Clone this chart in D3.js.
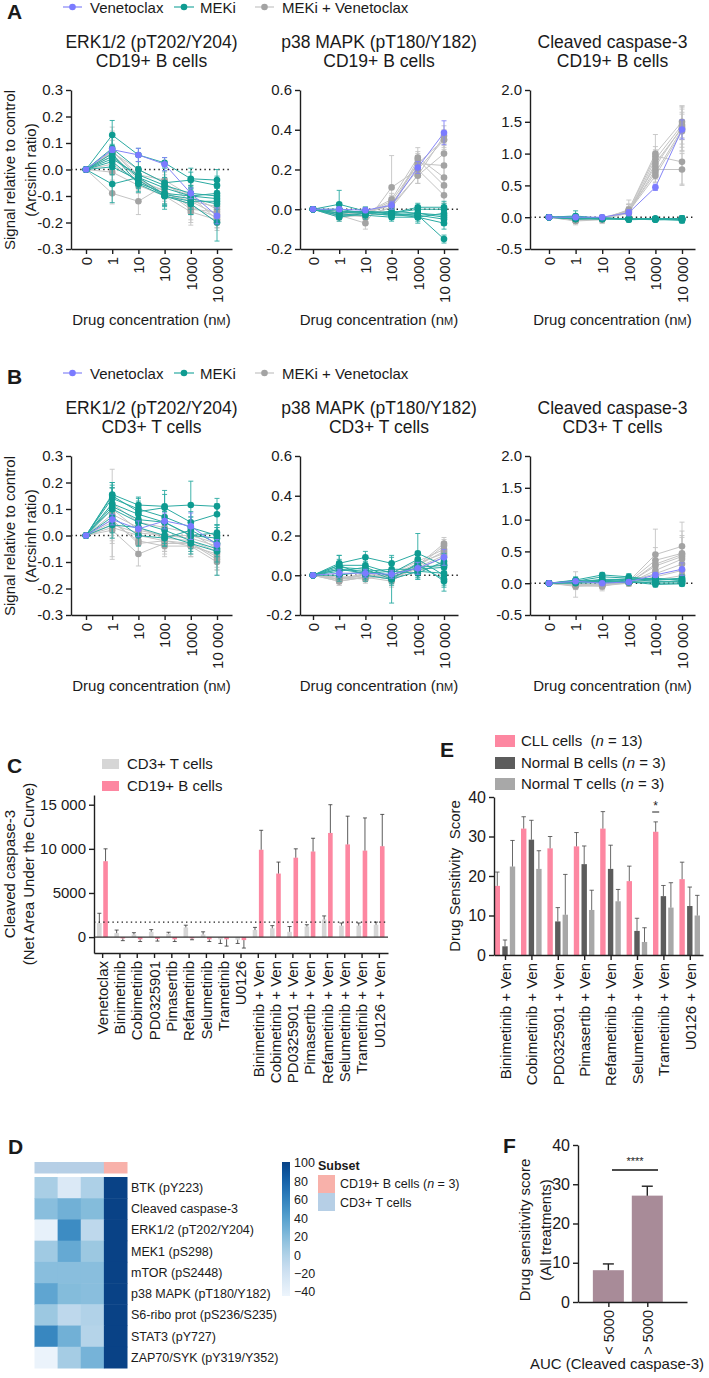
<!DOCTYPE html>
<html><head><meta charset="utf-8">
<script src="https://cdn.jsdelivr.net/npm/d3@7"></script>
<style>
body{margin:0;background:#fff}
svg{display:block}
text{font-family:"Liberation Sans",Arial,Helvetica,sans-serif;fill:#1a1a1a}
</style>
</head><body>
<svg id="c" width="709" height="1378"></svg>
<script>
// ---------- DATA ----------
const concLabels = ["0","1","10","100","1000","10 000"];
const erkTicks = [-0.3,-0.2,-0.1,0,0.1,0.2,0.3];
const erkTickLabels = ["-0.3","-0.2","-0.1","0.0","0.1","0.2","0.3"];
const p38Ticks = [-0.2,0,0.2,0.4,0.6];
const p38TickLabels = ["-0.2","0.0","0.2","0.4","0.6"];
const casTicks = [-0.5,0,0.5,1,1.5,2];
const casTickLabels = ["-0.5","0.0","0.5","1.0","1.5","2.0"];

// A: CD19+ B cells
const erkB_ven = [0,0.075,0.055,0.02,-0.09,-0.175];
const erkB_venErr = [0,0.01,0.025,0.025,0.02,0.03];
const erkB_meki = [
 [0,0.13,0.055,0.025,-0.035,-0.04],
 [0,0.08,0.0,-0.05,-0.04,-0.06],
 [0,0.05,-0.03,-0.07,-0.10,-0.09],
 [0,0.03,-0.05,-0.09,-0.10,-0.11],
 [0,0.01,-0.04,-0.10,-0.12,-0.12],
 [0,-0.055,-0.03,-0.095,-0.11,-0.13],
 [0,0.04,-0.02,-0.06,-0.09,-0.10],
 [0,0.06,-0.055,-0.10,-0.13,-0.20]];
const erkB_mekiErr = [
 [0,0.055,0.025,0.02,0.04,0.04],
 [0,0.045,0.03,0.06,0.03,0.035],
 [0,0.04,0.04,0.065,0.035,0.03],
 [0,0.03,0.035,0.04,0.04,0.04],
 [0,0.03,0.03,0.05,0.05,0.05],
 [0,0.07,0.03,0.04,0.04,0.06],
 [0,0.04,0.03,0.03,0.03,0.04],
 [0,0.035,0.03,0.04,0.04,0.07]];
const erkB_combo = [
 [0,-0.09,-0.12,-0.06,-0.10,-0.19],
 [0,-0.01,-0.06,-0.10,-0.13,-0.20],
 [0,0.07,-0.02,-0.04,-0.10,-0.15],
 [0,0.065,0.0,-0.05,-0.12,-0.17],
 [0,0.06,-0.04,-0.08,-0.14,-0.18],
 [0,0.02,-0.045,-0.08,-0.15,-0.16],
 [0,0.07,-0.03,-0.10,-0.16,-0.19],
 [0,0.05,-0.05,-0.09,-0.12,-0.14]];
const erkB_comboErr = [
 [0,0.04,0.05,0.03,0.04,0.03],
 [0,0.03,0.03,0.03,0.04,0.03],
 [0,0.09,0.03,0.03,0.05,0.04],
 [0,0.08,0.03,0.03,0.04,0.03],
 [0,0.05,0.03,0.03,0.05,0.03],
 [0,0.03,0.03,0.03,0.06,0.03],
 [0,0.06,0.03,0.03,0.04,0.03],
 [0,0.04,0.03,0.03,0.04,0.03]];

const p38B_ven = [0,0.0,-0.005,0.02,0.21,0.385];
const p38B_venErr = [0,0.01,0.012,0.02,0.03,0.06];
const p38B_meki = [
 [0,0.025,-0.01,-0.02,-0.03,-0.15],
 [0,-0.01,-0.015,-0.02,0.0,0.0],
 [0,-0.03,-0.02,-0.03,-0.03,-0.05],
 [0,-0.02,-0.01,-0.025,-0.04,-0.07],
 [0,-0.03,-0.03,-0.04,-0.04,-0.02],
 [0,0.0,-0.02,-0.01,-0.02,-0.03],
 [0,-0.04,-0.02,-0.03,-0.02,-0.04],
 [0,-0.02,-0.01,-0.02,0.01,0.01]];
const p38B_mekiErr = [
 [0,0.07,0.02,0.02,0.02,0.02],
 [0,0.03,0.02,0.02,0.02,0.03],
 [0,0.02,0.02,0.02,0.02,0.03],
 [0,0.02,0.02,0.02,0.02,0.03],
 [0,0.02,0.02,0.02,0.03,0.02],
 [0,0.02,0.02,0.02,0.02,0.05],
 [0,0.02,0.02,0.02,0.02,0.03],
 [0,0.02,0.02,0.02,0.02,0.03]];
const p38B_combo = [
 [0,-0.03,-0.07,0.11,0.20,0.07],
 [0,-0.02,-0.02,0.05,0.26,0.16],
 [0,-0.02,-0.01,0.02,0.23,0.22],
 [0,-0.03,-0.02,0.02,0.17,0.28],
 [0,-0.01,-0.02,0.03,0.20,0.35],
 [0,-0.04,-0.03,0.01,0.17,0.37],
 [0,-0.03,-0.02,0.04,0.23,0.35],
 [0,-0.02,-0.04,0.01,0.25,0.12]];
const p38B_comboErr = [
 [0,0.02,0.03,0.16,0.04,0.04],
 [0,0.02,0.03,0.03,0.05,0.05],
 [0,0.02,0.02,0.03,0.04,0.05],
 [0,0.02,0.02,0.02,0.04,0.05],
 [0,0.02,0.02,0.03,0.03,0.04],
 [0,0.02,0.02,0.02,0.04,0.05],
 [0,0.02,0.02,0.03,0.05,0.05],
 [0,0.02,0.02,0.02,0.04,0.04]];

const casB_ven = [0,0.0,0.0,0.07,0.47,1.38];
const casB_venErr = [0,0.03,0.03,0.05,0.05,0.15];
const casB_meki = [
 [0,0.02,-0.02,-0.03,-0.02,-0.03],
 [0,-0.02,-0.03,-0.02,-0.03,-0.04],
 [0,-0.03,-0.02,-0.04,-0.03,-0.02],
 [0,0.0,-0.01,-0.03,-0.04,-0.03],
 [0,-0.01,-0.03,-0.02,-0.03,-0.05],
 [0,-0.02,-0.02,-0.03,-0.02,-0.03],
 [0,0.01,-0.02,-0.02,-0.04,-0.04],
 [0,-0.03,-0.01,-0.03,-0.03,-0.02]];
const casB_mekiErr = [
 [0,0.08,0.03,0.03,0.03,0.05],
 [0,0.04,0.03,0.03,0.03,0.04],
 [0,0.03,0.03,0.04,0.03,0.04],
 [0,0.03,0.03,0.03,0.03,0.05],
 [0,0.03,0.03,0.03,0.03,0.04],
 [0,0.03,0.03,0.03,0.03,0.04],
 [0,0.04,0.03,0.03,0.03,0.05],
 [0,0.03,0.03,0.03,0.03,0.04]];
const casB_combo = [
 [0,-0.05,-0.03,0.12,1.00,1.50],
 [0,-0.06,-0.04,0.10,0.96,0.87],
 [0,-0.04,-0.02,0.08,0.75,0.75],
 [0,-0.03,-0.03,0.07,0.91,1.45],
 [0,-0.05,-0.01,0.10,0.70,1.38],
 [0,-0.04,-0.02,0.09,0.65,1.35],
 [0,-0.03,-0.03,0.11,0.80,1.42],
 [0,-0.04,-0.02,0.06,0.85,1.40]];
const casB_comboErr = [
 [0,0.05,0.06,0.15,0.30,0.25],
 [0,0.06,0.06,0.10,0.15,0.35],
 [0,0.05,0.05,0.08,0.20,0.25],
 [0,0.04,0.05,0.08,0.15,0.30],
 [0,0.05,0.04,0.10,0.10,0.35],
 [0,0.05,0.05,0.08,0.10,0.30],
 [0,0.05,0.05,0.10,0.10,0.20],
 [0,0.05,0.05,0.08,0.12,0.30]];

// B: CD3+ T cells
const erkT_ven = [0,0.06,0.025,0.055,0.035,-0.035];
const erkT_venErr = [0,0.02,0.03,0.03,0.05,0.02];
const erkT_meki = [
 [0,0.155,0.115,0.11,0.115,0.11],
 [0,0.15,0.09,0.105,0.05,0.08],
 [0,0.12,0.08,0.05,0.0,0.01],
 [0,0.11,0.06,0.05,0.0,-0.01],
 [0,0.10,0.05,0.02,-0.02,-0.05],
 [0,0.07,0.0,-0.01,0.02,-0.03],
 [0,0.04,0.03,0.0,-0.03,-0.06],
 [0,0.14,0.10,0.07,0.03,0.0]];
const erkT_mekiErr = [
 [0,0.045,0.03,0.06,0.09,0.03],
 [0,0.05,0.04,0.05,0.04,0.04],
 [0,0.06,0.03,0.04,0.05,0.03],
 [0,0.07,0.04,0.04,0.03,0.04],
 [0,0.06,0.05,0.05,0.04,0.05],
 [0,0.06,0.04,0.03,0.05,0.05],
 [0,0.05,0.03,0.04,0.04,0.09],
 [0,0.05,0.04,0.04,0.04,0.04]];
const erkT_combo = [
 [0,0.02,-0.07,-0.03,-0.03,-0.09],
 [0,0.05,-0.02,-0.04,-0.04,-0.10],
 [0,0.03,0.0,-0.02,-0.03,-0.08],
 [0,0.08,0.03,-0.01,-0.02,-0.06],
 [0,0.10,0.02,0.0,-0.01,-0.04],
 [0,0.12,0.05,0.03,0.01,-0.05],
 [0,0.06,-0.03,-0.02,-0.04,-0.07],
 [0,0.04,0.01,0.0,0.0,-0.03]];
const erkT_comboErr = [
 [0,0.10,0.045,0.04,0.04,0.04],
 [0,0.08,0.04,0.04,0.04,0.05],
 [0,0.05,0.03,0.04,0.03,0.05],
 [0,0.17,0.04,0.04,0.03,0.04],
 [0,0.08,0.03,0.03,0.03,0.04],
 [0,0.06,0.03,0.03,0.03,0.05],
 [0,0.06,0.04,0.04,0.04,0.05],
 [0,0.05,0.03,0.03,0.03,0.04]];

const p38T_ven = [0,0.01,0.01,0.005,0.035,0.09];
const p38T_venErr = [0,0.02,0.02,0.02,0.03,0.04];
const p38T_meki = [
 [0,0.06,0.09,0.06,0.11,0.05],
 [0,0.05,0.05,0.01,0.08,0.0],
 [0,0.04,0.03,-0.02,0.06,-0.03],
 [0,0.03,0.02,0.0,0.05,-0.02],
 [0,0.02,0.04,-0.01,0.04,0.05],
 [0,0.0,0.02,0.03,0.03,0.04],
 [0,0.05,0.0,-0.02,0.02,0.01],
 [0,0.03,0.01,0.02,0.01,0.07]];
const p38T_mekiErr = [
 [0,0.04,0.03,0.03,0.10,0.04],
 [0,0.03,0.03,0.03,0.04,0.05],
 [0,0.03,0.03,0.12,0.04,0.05],
 [0,0.03,0.03,0.03,0.04,0.04],
 [0,0.04,0.03,0.03,0.04,0.04],
 [0,0.03,0.03,0.03,0.04,0.03],
 [0,0.05,0.03,0.03,0.04,0.04],
 [0,0.03,0.03,0.03,0.03,0.04]];
const p38T_combo = [
 [0,-0.02,-0.01,-0.03,0.05,0.16],
 [0,-0.01,0.0,-0.02,0.04,0.15],
 [0,-0.03,-0.01,0.0,0.06,0.11],
 [0,-0.02,0.01,-0.01,0.03,0.09],
 [0,-0.01,-0.02,0.01,0.07,0.13],
 [0,-0.02,0.0,-0.02,0.02,0.06],
 [0,-0.03,-0.01,0.0,0.04,0.10],
 [0,-0.02,0.0,0.0,0.05,0.12]];
const p38T_comboErr = [
 [0,0.02,0.02,0.03,0.04,0.03],
 [0,0.02,0.02,0.03,0.03,0.03],
 [0,0.02,0.02,0.02,0.03,0.03],
 [0,0.02,0.02,0.02,0.03,0.03],
 [0,0.02,0.02,0.02,0.03,0.03],
 [0,0.02,0.02,0.02,0.03,0.03],
 [0,0.02,0.02,0.02,0.03,0.03],
 [0,0.02,0.02,0.02,0.03,0.03]];

const casT_ven = [0,0.03,0.0,0.02,0.13,0.22];
const casT_venErr = [0,0.02,0.02,0.03,0.04,0.10];
const casT_meki = [
 [0,0.05,0.13,0.10,0.05,0.07],
 [0,0.03,0.10,0.08,0.07,0.05],
 [0,0.02,0.06,0.06,0.03,0.03],
 [0,0.01,0.03,0.03,0.0,0.0],
 [0,0.04,0.02,0.05,0.08,0.04],
 [0,0.02,0.05,0.02,-0.02,-0.01],
 [0,0.0,0.01,0.01,0.02,0.02],
 [0,0.03,0.04,0.07,0.05,0.08]];
const casT_mekiErr = [
 [0,0.05,0.04,0.05,0.05,0.05],
 [0,0.04,0.04,0.04,0.05,0.04],
 [0,0.04,0.03,0.04,0.04,0.04],
 [0,0.03,0.03,0.03,0.04,0.04],
 [0,0.04,0.03,0.04,0.05,0.04],
 [0,0.03,0.03,0.03,0.04,0.04],
 [0,0.03,0.03,0.03,0.03,0.03],
 [0,0.04,0.03,0.04,0.04,0.05]];
const casT_combo = [
 [0,-0.03,-0.05,0.03,0.45,0.58],
 [0,-0.04,-0.02,0.02,0.36,0.47],
 [0,-0.02,-0.03,0.01,0.27,0.42],
 [0,-0.05,-0.04,0.0,0.20,0.38],
 [0,-0.02,-0.01,0.03,0.15,0.30],
 [0,-0.03,-0.02,0.01,0.10,0.20],
 [0,-0.01,-0.03,0.02,0.05,0.12],
 [0,-0.02,-0.02,0.0,0.30,0.45]];
const casT_comboErr = [
 [0,0.05,0.05,0.05,0.40,0.38],
 [0,0.06,0.05,0.05,0.20,0.35],
 [0,0.05,0.06,0.05,0.15,0.30],
 [0,0.05,0.08,0.05,0.10,0.20],
 [0,0.05,0.04,0.05,0.10,0.15],
 [0,0.06,0.05,0.05,0.08,0.10],
 [0,0.05,0.05,0.05,0.06,0.08],
 [0,0.20,0.05,0.05,0.15,0.30]];

// C: AUC bars
const cCategories = ["Venetoclax","Binimetinib","Cobimetinib","PD0325901","Pimasertib","Refametinib","Selumetinib","Trametinib","U0126",
 "Binimetinib + Ven","Cobimetinib + Ven","PD0325901 + Ven","Pimasertib + Ven","Refametinib + Ven","Selumetinib + Ven","Trametinib + Ven","U0126 + Ven"];
const cT = [1600,450,300,600,400,1100,300,-260,-300,800,1000,600,1200,2000,1300,1300,1400];
const cTErr = [1100,350,200,250,150,250,300,460,420,300,300,600,200,400,300,300,300];
const cB = [8600,-150,-250,-200,-250,-150,-250,-250,-340,9900,7200,9000,9700,11800,10500,9800,10300];
const cBErr = [1400,250,250,250,250,150,250,770,900,2200,1300,1000,1500,3200,3200,3700,3600];
const cThreshold = 1700;
const cTicks = [0,5000,10000,15000];
const cTickLabels = ["0","5000","10 000","15 000"];

// E: DSS
const eCategories = ["Binimetinib + Ven","Cobimetinib + Ven","PD0325901 + Ven","Pimasertib + Ven","Refametinib + Ven","Selumetinib + Ven","Trametinib + Ven","U0126 + Ven"];
const eCLL = [17.5,32,27,27.5,32,18.7,31.2,19.2];
const eCLLErr = [3.5,3,3,3.5,4.3,3.8,2.5,4.3];
const eNormB = [2.2,29.2,8.5,23,21.8,6.1,14.9,12.4];
const eNormBErr = [1.6,4.9,3.5,4.6,6,3.2,2.7,4.8];
const eNormT = [22.4,21.8,10.2,11.4,13.6,3.3,12,10];
const eNormTErr = [6.6,4.6,10.2,5,3,3.6,6.3,5.1];
const eTicks = [0,10,20,30,40];

// D: heatmap
const dRows = ["BTK (pY223)","Cleaved caspase-3","ERK1/2 (pT202/Y204)","MEK1 (pS298)","mTOR (pS2448)","p38 MAPK (pT180/Y182)","S6-ribo prot (pS236/S235)","STAT3 (pY727)","ZAP70/SYK (pY319/Y352)"];
const dSubsets = ["T","T","T","B"];
const dValues = [
 [6,-25,4,100],
 [20,30,22,100],
 [-35,55,-5,100],
 [10,35,12,100],
 [20,20,20,100],
 [38,22,20,100],
 [12,-5,2,100],
 [58,30,0,100],
 [-38,8,28,100]];
const dLegendTicks = [100,80,60,40,20,0,-20,-40];
const dLegendLabels = ["100","80","60","40","20","0","\u221220","\u221240"];

// F
const fCategories = ["< 5000","> 5000"];
const fValues = [8.1,27.1];
const fErr = [1.6,2.4];
const fTicks = [0,10,20,30,40];

// ---------- DRAWING ----------
const svg = d3.select("#c");
svg.append("rect").attr("width",709).attr("height",1378).attr("fill","#fff");
const FS = 15;
const INK = "#1e1e1e";
const colVen = "#8585f7", colVenM = "#7b7bff";
const colMek = "#2aaaa2", colMekM = "#0e9b91";
const colCom = "#c4c4c4", colComM = "#a3a3a3";

function styleAxis(g, fs){
  g.attr("font-family",null).attr("font-size",null);
  g.selectAll("path.domain").attr("stroke",INK).attr("stroke-width",1.4);
  g.selectAll(".tick line").attr("stroke",INK).attr("stroke-width",1.4);
  g.selectAll(".tick text").attr("font-size",fs||FS).attr("fill",INK);
}
function rotateLabels(g){
  g.selectAll(".tick text").attr("transform","rotate(-90)").attr("text-anchor","end")
   .attr("x",-8).attr("y",0).attr("dy","0.35em");
}
function label(t,x,y){
  svg.append("text").attr("x",x).attr("y",y).attr("font-size",21).attr("font-weight","bold").attr("fill","#000").text(t);
}

function legendRow(oy){
  const items = [["Venetoclax",colVen,colVenM,63,82,90],["MEKi",colMek,colMekM,174,194,200],["MEKi + Venetoclax",colCom,colComM,255,274,282]];
  items.forEach(([t,c,cm,x1,x2,tx])=>{
    svg.append("line").attr("x1",x1).attr("x2",x2).attr("y1",oy+7).attr("y2",oy+7).attr("stroke",c).attr("stroke-width",1.2);
    svg.append("circle").attr("cx",(x1+x2)/2).attr("cy",oy+7).attr("r",3.3).attr("fill",cm);
    svg.append("text").attr("x",tx).attr("y",oy+12.5).attr("font-size",FS).text(t);
  });
}

function linePanel(oy, p){
  const step = (p.last-p.first)/5;
  const x = d3.scaleLinear().domain([(p.ax-p.first)/step, 5+(p.end-p.last)/step]).range([p.ax,p.end]);
  const y = d3.scaleLinear().domain(p.domain).range([oy+249, oy+90]);
  const g = svg.append("g");
  g.append("text").attr("x",(p.ax+p.end)/2).attr("y",oy+48).attr("text-anchor","middle").attr("font-size",17.5).text(p.t1);
  g.append("text").attr("x",(p.ax+p.end)/2).attr("y",oy+67).attr("text-anchor","middle").attr("font-size",17.5).text(p.t2);
  g.append("line").attr("x1",p.ax).attr("x2",p.end).attr("y1",y(0)).attr("y2",y(0))
    .attr("stroke",INK).attr("stroke-width",1.4).attr("stroke-dasharray","1.4,3.2");
  const line = d3.line().x((d,i)=>x(i)).y(d=>y(d));
  function group(vals, errs, lc, mc){
    const gg = g.append("g");
    vals.forEach((s,k)=>{
      s.forEach((v,i)=>{
        const e = errs[k][i];
        if(e>0){
          gg.append("line").attr("x1",x(i)).attr("x2",x(i)).attr("y1",y(v-e)).attr("y2",y(v+e)).attr("stroke",lc).attr("stroke-width",0.9);
          [v-e,v+e].forEach(w=>gg.append("line").attr("x1",x(i)-2.5).attr("x2",x(i)+2.5).attr("y1",y(w)).attr("y2",y(w)).attr("stroke",lc).attr("stroke-width",0.9));
        }
      });
    });
    vals.forEach(s=>{
      gg.append("path").attr("d",line(s)).attr("fill","none").attr("stroke",lc).attr("stroke-width",1);
    });
    vals.forEach(s=>{
      s.forEach((v,i)=>gg.append("circle").attr("cx",x(i)).attr("cy",y(v)).attr("r",3.3).attr("fill",mc));
    });
  }
  group(p.combo,p.comboErr,colCom,colComM);
  group(p.meki,p.mekiErr,colMek,colMekM);
  group([p.ven],[p.venErr],colVen,colVenM);
  const ya = g.append("g").attr("transform",`translate(${p.ax},0)`)
    .call(d3.axisLeft(y).tickValues(p.ticks).tickFormat((d,i)=>p.tickLabels[i]).tickSize(5).tickSizeOuter(0).tickPadding(3));
  styleAxis(ya);
  const xa = g.append("g").attr("transform",`translate(0,${oy+249})`)
    .call(d3.axisBottom(x).tickValues([0,1,2,3,4,5]).tickFormat((d,i)=>concLabels[i]).tickSize(5).tickSizeOuter(0));
  styleAxis(xa); rotateLabels(xa);
  const xt = g.append("text").attr("x",(p.ax+p.end)/2).attr("y",oy+325).attr("text-anchor","middle").attr("font-size",FS);
  xt.append("tspan").text("Drug concentration (n");
  xt.append("tspan").attr("font-size",11).text("M");
  xt.append("tspan").text(")");
}

function row(oy, title2, sets){
  legendRow(oy);
  const geo = [{ax:71,first:86,last:217,end:232},{ax:300,first:313,last:444,end:458},{ax:530,first:549,last:682,end:695}];
  const heads = ["ERK1/2 (pT202/Y204)","p38 MAPK (pT180/Y182)","Cleaved caspase-3"];
  const doms = [[-0.3,0.3],[-0.2,0.6],[-0.5,2]];
  const tks = [[erkTicks,erkTickLabels],[p38Ticks,p38TickLabels],[casTicks,casTickLabels]];
  sets.forEach((s,i)=>{
    linePanel(oy, Object.assign({}, geo[i], {t1:heads[i], t2:title2[i], domain:doms[i], ticks:tks[i][0], tickLabels:tks[i][1]}, s));
  });
  [["Signal relative to control",10],["(Arcsinh ratio)",31]].forEach(([t,xx])=>{
    svg.append("text").attr("transform",`translate(${xx},${oy+170}) rotate(-90)`).attr("text-anchor","middle")
      .attr("dy","0.35em").attr("font-size",FS).text(t);
  });
}

label("A",7,19);
row(0, ["CD19+  B cells","CD19+ B cells","CD19+ B cells"], [
  {ven:erkB_ven,venErr:erkB_venErr,meki:erkB_meki,mekiErr:erkB_mekiErr,combo:erkB_combo,comboErr:erkB_comboErr},
  {ven:p38B_ven,venErr:p38B_venErr,meki:p38B_meki,mekiErr:p38B_mekiErr,combo:p38B_combo,comboErr:p38B_comboErr},
  {ven:casB_ven,venErr:casB_venErr,meki:casB_meki,mekiErr:casB_mekiErr,combo:casB_combo,comboErr:casB_comboErr}]);
label("B",7,384);
row(366, ["CD3+ T cells","CD3+  T cells","CD3+  T cells"], [
  {ven:erkT_ven,venErr:erkT_venErr,meki:erkT_meki,mekiErr:erkT_mekiErr,combo:erkT_combo,comboErr:erkT_comboErr},
  {ven:p38T_ven,venErr:p38T_venErr,meki:p38T_meki,mekiErr:p38T_mekiErr,combo:p38T_combo,comboErr:p38T_comboErr},
  {ven:casT_ven,venErr:casT_venErr,meki:casT_meki,mekiErr:casT_mekiErr,combo:casT_combo,comboErr:casT_comboErr}]);

// ---------- C ----------
(function(){
  const pink = "#fd87a1", grey = "#d6d6d6";
  label("C",7,773);
  svg.append("rect").attr("x",102).attr("y",759).attr("width",17).attr("height",10).attr("fill",grey);
  svg.append("text").attr("x",127).attr("y",769).attr("font-size",FS).text("CD3+ T cells");
  svg.append("rect").attr("x",102).attr("y",781).attr("width",17).attr("height",10).attr("fill",pink);
  svg.append("text").attr("x",127).attr("y",791).attr("font-size",FS).text("CD19+ B cells");
  const x = d3.scaleBand().domain(cCategories).range([94,388]);
  const y = d3.scaleLinear().domain([-1800,16100]).range([953,795]);
  const g = svg.append("g");
  function bars(vals, errs, color, off){
    vals.forEach((v,i)=>{
      const c = x(cCategories[i]) + x.bandwidth()/2;
      const x0 = c+off, w = 4.6;
      g.append("rect").attr("x",x0).attr("width",w).attr("y",Math.min(y(v),y(0))).attr("height",Math.abs(y(v)-y(0))).attr("fill",color);
      const e = v>=0 ? v+errs[i] : v-errs[i];
      g.append("line").attr("x1",x0+w/2).attr("x2",x0+w/2).attr("y1",y(v)).attr("y2",y(e)).attr("stroke","#333").attr("stroke-width",0.8);
      g.append("line").attr("x1",x0+w/2-2).attr("x2",x0+w/2+2).attr("y1",y(e)).attr("y2",y(e)).attr("stroke","#333").attr("stroke-width",0.8);
    });
  }
  bars(cT,cTErr,grey,-5.6);
  bars(cB,cBErr,pink,0.6);
  g.append("line").attr("x1",94).attr("x2",388).attr("y1",y(0)).attr("y2",y(0)).attr("stroke","#333").attr("stroke-width",1.3);
  g.append("line").attr("x1",94).attr("x2",388).attr("y1",y(cThreshold)).attr("y2",y(cThreshold))
    .attr("stroke",INK).attr("stroke-width",1.3).attr("stroke-dasharray","1.4,3.2");
  const ya = g.append("g").attr("transform","translate(94,0)")
    .call(d3.axisLeft(y).tickValues(cTicks).tickFormat((d,i)=>cTickLabels[i]).tickSize(5).tickSizeOuter(0).tickPadding(3));
  styleAxis(ya);
  const xa = g.append("g").attr("transform","translate(0,953)").call(d3.axisBottom(x).tickSize(5).tickSizeOuter(0));
  styleAxis(xa); rotateLabels(xa);
  [["Cleaved caspase-3",10],["(Net Area Under the Curve)",29]].forEach(([t,xx])=>{
    svg.append("text").attr("transform",`translate(${xx},874) rotate(-90)`).attr("text-anchor","middle")
      .attr("dy","0.35em").attr("font-size",FS).text(t);
  });
})();

// ---------- E ----------
(function(){
  const pink = "#fd87a1", dark = "#5c5c5c", light = "#a8a8a8";
  label("E",440,757);
  const leg = [["CLL cells  (","13",")",pink,735],["Normal B cells (","3",")",dark,757],["Normal T cells (","3",")",light,778]];
  leg.forEach(([a,n,b,c,yy])=>{
    svg.append("rect").attr("x",495).attr("y",yy).attr("width",20).attr("height",12).attr("fill",c);
    const t = svg.append("text").attr("x",521).attr("y",yy+11).attr("font-size",FS).attr("xml:space","preserve");
    t.append("tspan").text(a);
    t.append("tspan").attr("font-style","italic").text("n");
    t.append("tspan").text(" = "+n+b);
  });
  const x = d3.scaleLinear().domain([-0.4167,7.5]).range([494,703]);
  const y = d3.scaleLinear().domain([0,40]).range([955,797]);
  const g = svg.append("g");
  function bars(vals, errs, color, off){
    vals.forEach((v,i)=>{
      const x0 = x(i)+off, w = 5.4;
      g.append("rect").attr("x",x0).attr("width",w).attr("y",y(v)).attr("height",y(0)-y(v)).attr("fill",color);
      const e = v+errs[i];
      g.append("line").attr("x1",x0+w/2).attr("x2",x0+w/2).attr("y1",y(v)).attr("y2",y(e)).attr("stroke","#444").attr("stroke-width",0.8);
      g.append("line").attr("x1",x0+w/2-2.2).attr("x2",x0+w/2+2.2).attr("y1",y(e)).attr("y2",y(e)).attr("stroke","#444").attr("stroke-width",0.8);
    });
  }
  bars(eCLL,eCLLErr,pink,-10.4);
  bars(eNormB,eNormBErr,dark,-2.7);
  bars(eNormT,eNormTErr,light,4.8);
  const sx = x(6)-7.7;
  g.append("line").attr("x1",sx-3.5).attr("x2",sx+3.5).attr("y1",812).attr("y2",812).attr("stroke","#222").attr("stroke-width",1);
  g.append("text").attr("x",sx).attr("y",810).attr("text-anchor","middle").attr("font-size",12).text("*");
  const ya = g.append("g").attr("transform","translate(494,0)")
    .call(d3.axisLeft(y).tickValues(eTicks).tickSize(5).tickSizeOuter(0).tickPadding(3));
  styleAxis(ya,16);
  const xa = g.append("g").attr("transform","translate(0,955)")
    .call(d3.axisBottom(x).tickValues(d3.range(8)).tickFormat((d,i)=>eCategories[i]).tickSize(5).tickSizeOuter(0));
  styleAxis(xa); rotateLabels(xa);
  svg.append("text").attr("transform","translate(455,876) rotate(-90)").attr("text-anchor","middle")
    .attr("dy","0.35em").attr("font-size",FS).attr("xml:space","preserve").text("Drug Sensitivity  Score");
})();

// ---------- D ----------
(function(){
  label("D",8,1154);
  const col = v => d3.interpolateBlues(Math.max(0,Math.min(1,0.3+0.0063*v)));
  const subCol = {T:"#b6cfe6", B:"#f8b1aa"};
  const cx = d3.scaleBand().domain(d3.range(4)).range([34.5,127]);
  const ry = d3.scaleBand().domain(d3.range(dRows.length)).range([1177,1368]);
  const g = svg.append("g");
  dSubsets.forEach((s,j)=>{
    g.append("rect").attr("x",cx(j)).attr("y",1162).attr("width",cx.bandwidth()+0.5).attr("height",11.5).attr("fill",subCol[s]);
  });
  dValues.forEach((r,i)=>r.forEach((v,j)=>{
    g.append("rect").attr("x",cx(j)).attr("y",ry(i)).attr("width",cx.bandwidth()+0.5).attr("height",ry.bandwidth()+0.5).attr("fill",col(v));
  }));
  dRows.forEach((t,i)=>{
    g.append("text").attr("x",131).attr("y",ry(i)+ry.bandwidth()/2).attr("dy","0.35em").attr("font-size",12.5).attr("fill","#222").text(t);
  });
  const ly = d3.scaleLinear().domain([100,-40]).range([1163,1292]);
  const defs = svg.append("defs");
  const grad = defs.append("linearGradient").attr("id","hm").attr("x1",0).attr("x2",0).attr("y1",0).attr("y2",1);
  d3.range(0,1.0001,0.05).forEach(t=>{
    grad.append("stop").attr("offset",t).attr("stop-color",col(100-140*t));
  });
  g.append("rect").attr("x",282).attr("y",1162).attr("width",8).attr("height",134).attr("fill","url(#hm)");
  dLegendTicks.forEach((v,i)=>{
    g.append("text").attr("x",294).attr("y",ly(v)).attr("dy","0.35em").attr("font-size",12.5).attr("fill","#222").text(dLegendLabels[i]);
  });
  g.append("text").attr("x",318).attr("y",1170).attr("font-size",12.5).attr("font-weight","bold").attr("fill","#222").text("Subset");
  g.append("rect").attr("x",318).attr("y",1175).attr("width",17).attr("height",18).attr("fill",subCol.B);
  g.append("rect").attr("x",318).attr("y",1193).attr("width",17).attr("height",18).attr("fill",subCol.T);
  const t1 = g.append("text").attr("x",340).attr("y",1188).attr("font-size",12.5).attr("fill","#222");
  t1.append("tspan").text("CD19+ B cells (");
  t1.append("tspan").attr("font-style","italic").text("n");
  t1.append("tspan").text(" = 3)");
  g.append("text").attr("x",340).attr("y",1207).attr("font-size",12.5).attr("fill","#222").text("CD3+ T cells");
})();

// ---------- F ----------
(function(){
  label("F",503,1153);
  const x = d3.scaleLinear().domain([-0.78,2.02]).range([578,687]);
  const y = d3.scaleLinear().domain([0,40]).range([1302,1145]);
  const g = svg.append("g");
  fValues.forEach((v,i)=>{
    const c = x(i), w = 31;
    g.append("rect").attr("x",c-w/2).attr("width",w).attr("y",y(v)).attr("height",y(0)-y(v)).attr("fill","#a88b98");
    const e = v+fErr[i];
    g.append("line").attr("x1",c).attr("x2",c).attr("y1",y(v)).attr("y2",y(e)).attr("stroke","#222").attr("stroke-width",1.4);
    g.append("line").attr("x1",c-5.5).attr("x2",c+5.5).attr("y1",y(e)).attr("y2",y(e)).attr("stroke","#222").attr("stroke-width",1.4);
  });
  g.append("line").attr("x1",612).attr("x2",658).attr("y1",1170).attr("y2",1170).attr("stroke","#111").attr("stroke-width",1.5);
  g.append("text").attr("x",635).attr("y",1165).attr("text-anchor","middle").attr("font-size",11).text("****");
  const ya = g.append("g").attr("transform","translate(578,0)")
    .call(d3.axisLeft(y).tickValues(fTicks).tickSize(5).tickSizeOuter(0).tickPadding(3));
  styleAxis(ya,16);
  const xa = g.append("g").attr("transform","translate(0,1302)")
    .call(d3.axisBottom(x).tickValues([0,1]).tickFormat((d,i)=>fCategories[i]).tickSize(5).tickSizeOuter(0));
  styleAxis(xa, 14.5); rotateLabels(xa);
  [["Drug sensitivity score",525],["(All treatments)",546]].forEach(([t,xx])=>{
    svg.append("text").attr("transform",`translate(${xx},1230) rotate(-90)`).attr("text-anchor","middle")
      .attr("dy","0.35em").attr("font-size",FS).text(t);
  });
  svg.append("text").attr("x",617).attr("y",1369).attr("text-anchor","middle").attr("font-size",FS).text("AUC (Cleaved caspase-3)");
})();
</script>
</body></html>
